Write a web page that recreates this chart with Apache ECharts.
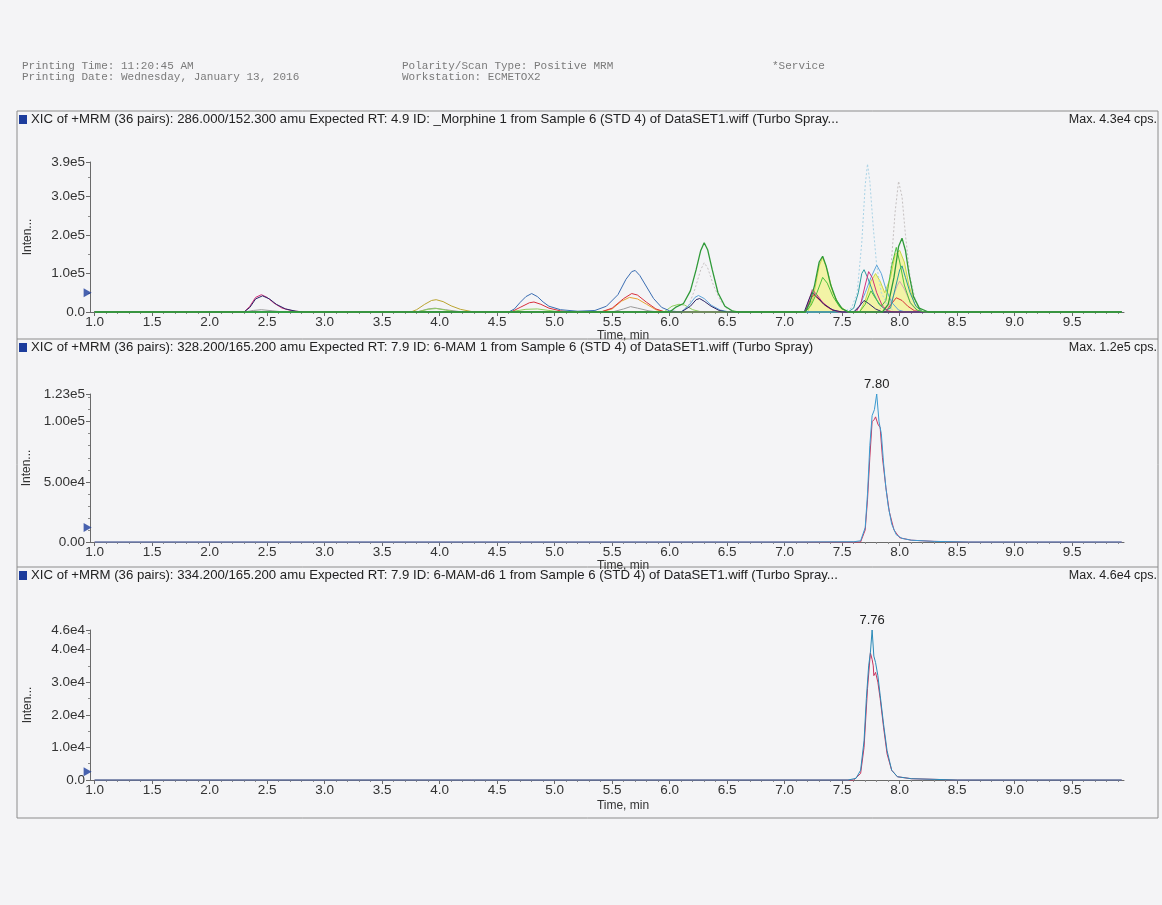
<!DOCTYPE html>
<html><head><meta charset="utf-8">
<script src="https://cdn.jsdelivr.net/npm/echarts@6/dist/echarts.min.js"></script>
<style>html,body{margin:0;padding:0;background:#f4f4f6}#c{width:1162px;height:905px}</style>
</head><body><div id="c"></div>
<script>
// ---------- tick labels ----------
const xTickValues = [1.0,1.5,2.0,2.5,3.0,3.5,4.0,4.5,5.0,5.5,6.0,6.5,7.0,7.5,8.0,8.5,9.0,9.5];
const xTickLabels = ['1.0','1.5','2.0','2.5','3.0','3.5','4.0','4.5','5.0','5.5','6.0','6.5','7.0','7.5','8.0','8.5','9.0','9.5'];
const y1TickValues = [0, 1e5, 2e5, 3e5, 3.9e5];
const y1TickLabels = ['0.0','1.0e5','2.0e5','3.0e5','3.9e5'];
const y2TickValues = [0, 5e4, 1e5, 1.23e5];
const y2TickLabels = ['0.00','5.00e4','1.00e5','1.23e5'];
const y3TickValues = [0, 1e4, 2e4, 3e4, 4e4, 4.6e4];
const y3TickLabels = ['0.0','1.0e4','2.0e4','3.0e4','4.0e4','4.6e4'];

// ---------- panel titles ----------
const panelTitles = [
  'XIC of +MRM (36 pairs): 286.000/152.300 amu Expected RT: 4.9 ID: _Morphine 1 from Sample 6 (STD 4) of DataSET1.wiff (Turbo Spray...',
  'XIC of +MRM (36 pairs): 328.200/165.200 amu Expected RT: 7.9 ID: 6-MAM 1 from Sample 6 (STD 4) of DataSET1.wiff (Turbo Spray)',
  'XIC of +MRM (36 pairs): 334.200/165.200 amu Expected RT: 7.9 ID: 6-MAM-d6 1 from Sample 6 (STD 4) of DataSET1.wiff (Turbo Spray...'
];
const panelMax = ['Max. 4.3e4 cps.', 'Max. 1.2e5 cps.', 'Max. 4.6e4 cps.'];

// ---------- threshold markers (time, intensity) ----------
const thresholds = [[1.0, 5.0e4], [1.0, 1.2e4], [1.0, 2.5e3]];

// ---------- panel 1 traces: [time (min), intensity (cps)] ----------
const p1Yellow = [[1,0],[7.2,0],[7.25,4e4],[7.3,1.2e5],[7.33,1.42e5],[7.37,1.1e5],[7.42,5e4],[7.48,1.5e4],[7.55,0],[7.65,0],[7.7,3e4],[7.75,8e4],[7.79,1e5],[7.83,8e4],[7.87,5e4],[7.92,9e4],[7.96,1.5e5],[8.0,1.6e5],[8.04,1.3e5],[8.08,7e4],[8.13,2e4],[8.2,0],[9.93,0]];
const p1CyanDot = [[1,0],[7.5,0],[7.58,1e4],[7.63,5e4],[7.67,1.8e5],[7.7,3.3e5],[7.72,3.85e5],[7.74,3.4e5],[7.77,2.2e5],[7.8,1.2e5],[7.84,5e4],[7.9,1.5e4],[7.96,0],[9.93,0]];
const p1GrayDot = [[1,0],[6.1,0],[6.17,2e4],[6.22,6e4],[6.27,1.1e5],[6.3,1.28e5],[6.33,1.15e5],[6.38,7e4],[6.44,3e4],[6.5,8e3],[6.58,0],[7.8,0],[7.87,2e4],[7.92,1e5],[7.96,2.6e5],[7.99,3.4e5],[8.02,3e5],[8.05,2e5],[8.09,9e4],[8.14,2.5e4],[8.2,0],[9.93,0]];
const p1Rose = [[1,0],[7.88,0],[7.93,3e4],[7.98,7e4],[8.0,8e4],[8.04,6e4],[8.1,2e4],[8.16,0],[9.93,0]];
const p1Gray = [[1,0],[2.3,0],[2.38,4e3],[2.45,6e3],[2.55,3e3],[2.65,0],[3.8,0],[3.9,8e3],[3.96,1e4],[4.05,6e3],[4.2,0],[5.5,0],[5.6,8e3],[5.66,1.4e4],[5.72,1e4],[5.82,3e3],[5.9,0],[9.93,0]];
const p1Olive = [[1,0],[3.75,0],[3.8,6e3],[3.87,2e4],[3.93,3e4],[3.97,3.2e4],[4.03,2.7e4],[4.1,1.6e4],[4.18,7e3],[4.28,1e3],[4.35,0],[9.93,0]];
const p1LightGreen = [[1,0],[3.8,0],[3.9,7e3],[3.97,9e3],[4.05,5e3],[4.15,0],[4.6,0],[4.75,7e3],[4.85,8e3],[4.95,4e3],[5.05,0],[5.95,0],[6.02,1.5e4],[6.08,2e4],[6.13,1.8e4],[6.2,6e3],[6.28,0],[9.93,0]];
const p1Orange = [[1,0],[5.4,0],[5.5,8e3],[5.58,2.8e4],[5.65,3.8e4],[5.72,3.4e4],[5.8,2e4],[5.88,6e3],[5.96,0],[9.93,0]];
const p1Red = [[1,0],[4.62,0],[4.7,1.2e4],[4.78,2.4e4],[4.82,2.6e4],[4.88,2e4],[4.95,1e4],[5.05,3e3],[5.15,0],[5.4,0],[5.5,1e4],[5.6,3.5e4],[5.67,4.8e4],[5.72,4.4e4],[5.8,2.5e4],[5.88,8e3],[5.96,0],[7.18,0],[7.22,3e4],[7.25,4.5e4],[7.3,3.2e4],[7.36,1.5e4],[7.42,4e3],[7.5,0],[7.88,0],[7.93,2.2e4],[7.97,3.7e4],[8.02,3e4],[8.07,1.5e4],[8.13,3e3],[8.2,0],[9.93,0]];
const p1Blue = [[1,0],[4.6,0],[4.65,8e3],[4.7,2.5e4],[4.75,4e4],[4.8,4.8e4],[4.85,4e4],[4.9,2.6e4],[4.95,1.5e4],[5.05,6e3],[5.2,2e3],[5.35,4e3],[5.45,1.5e4],[5.55,4.5e4],[5.62,8.5e4],[5.67,1.05e5],[5.7,1.08e5],[5.74,9.5e4],[5.8,6.5e4],[5.86,3.5e4],[5.93,1.2e4],[6.0,3e3],[6.1,0],[9.93,0]];
const p1LightBlue = [[1,0],[6.1,0],[6.17,1.8e4],[6.22,3.8e4],[6.25,4.3e4],[6.3,3.5e4],[6.36,1.8e4],[6.44,5e3],[6.52,0],[7.6,0],[7.65,1.5e4],[7.7,5e4],[7.75,9e4],[7.8,1.22e5],[7.84,1e5],[7.88,6e4],[7.93,2.5e4],[7.99,5e3],[8.05,0],[9.93,0]];
const p1Teal = [[1,0],[7.55,0],[7.6,1e4],[7.64,5e4],[7.67,1e5],[7.69,1.1e5],[7.72,9e4],[7.77,5e4],[7.82,2e4],[7.88,5e3],[7.92,1e4],[7.96,6e4],[8.0,1.1e5],[8.02,1.2e5],[8.05,9e4],[8.09,5e4],[8.14,1.5e4],[8.2,0],[9.93,0]];
const p1Magenta = [[1,0],[2.3,0],[2.35,1.5e4],[2.4,3.8e4],[2.45,4.5e4],[2.5,3.8e4],[2.56,2.3e4],[2.63,1e4],[2.72,3e3],[2.82,0],[7.18,0],[7.21,3e4],[7.24,5.8e4],[7.28,4.5e4],[7.33,2.5e4],[7.4,8e3],[7.47,0],[7.62,0],[7.66,2e4],[7.7,7e4],[7.73,1.05e5],[7.76,9e4],[7.8,5e4],[7.85,1.5e4],[7.9,3e3],[7.95,0],[9.93,0]];
const p1Navy = [[1,0],[2.3,0],[2.35,1.2e4],[2.4,3.4e4],[2.46,4.2e4],[2.52,3.4e4],[2.58,2e4],[2.66,8e3],[2.75,2e3],[2.82,0],[6.1,0],[6.18,1.5e4],[6.23,3.2e4],[6.26,3.5e4],[6.3,2.8e4],[6.36,1.5e4],[6.43,4e3],[6.5,0],[7.17,0],[7.21,3.2e4],[7.24,5.2e4],[7.28,4e4],[7.34,2e4],[7.42,5e3],[7.5,0],[7.6,0],[7.65,1.5e4],[7.69,3e4],[7.73,2.2e4],[7.79,8e3],[7.85,0],[9.93,0]];
const p1Green2 = [[1,0],[7.18,0],[7.23,1.8e4],[7.28,5e4],[7.33,9e4],[7.37,7.5e4],[7.42,4e4],[7.48,1.2e4],[7.55,0],[7.65,0],[7.7,2e4],[7.75,5.5e4],[7.79,3.5e4],[7.84,1.5e4],[7.88,3e4],[7.93,1.2e5],[7.97,1.68e5],[8.0,1.3e5],[8.04,7e4],[8.09,2.5e4],[8.15,5e3],[8.22,0],[9.93,0]];
const p1Green = [[1,0],[6.0,0],[6.05,1.2e4],[6.12,2.2e4],[6.18,5.5e4],[6.23,1.1e5],[6.27,1.6e5],[6.3,1.8e5],[6.33,1.62e5],[6.37,1.1e5],[6.42,5e4],[6.48,1.5e4],[6.55,2e3],[6.6,0],[7.18,0],[7.22,2.5e4],[7.26,7e4],[7.3,1.3e5],[7.33,1.45e5],[7.36,1.2e5],[7.4,7e4],[7.45,3e4],[7.5,8e3],[7.56,0],[7.85,0],[7.9,2e4],[7.95,9e4],[7.99,1.7e5],[8.02,1.92e5],[8.05,1.6e5],[8.08,1e5],[8.12,4e4],[8.17,1e4],[8.25,0],[9.93,0]];

// ---------- panel 2 traces ----------
const p2Blue = [[1,0],[7.1,0],[7.6,200],[7.66,1e3],[7.7,1.2e4],[7.72,4e4],[7.74,8e4],[7.76,1.05e5],[7.78,1.1e5],[7.8,1.23e5],[7.82,1.0e5],[7.84,9e4],[7.86,6.5e4],[7.88,4.5e4],[7.9,3e4],[7.93,1.5e4],[7.97,6e3],[8.02,3e3],[8.1,1.5e3],[8.3,500],[8.6,0],[9.93,0]];
const p2Red = [[1,0],[7.66,0],[7.7,1e4],[7.72,3.5e4],[7.74,7e4],[7.76,1.0e5],[7.78,1.02e5],[7.79,1.04e5],[7.81,9.8e4],[7.83,9.5e4],[7.85,7e4],[7.88,4.5e4],[7.91,2.5e4],[7.95,1e4],[8.0,3.5e3],[8.1,1.5e3],[8.3,500],[8.6,0],[9.93,0]];
const p2Peak = [7.80, 1.23e5, '7.80'];

// ---------- panel 3 traces ----------
const p3Blue = [[1,0],[7.55,0],[7.62,500],[7.66,3e3],[7.69,1.2e4],[7.71,2.5e4],[7.73,3.5e4],[7.745,3.9e4],[7.76,4.6e4],[7.775,3.8e4],[7.79,3.6e4],[7.81,3.2e4],[7.83,2.6e4],[7.86,1.7e4],[7.89,9e3],[7.93,3e3],[7.98,1e3],[8.1,400],[8.5,0],[9.93,0]];
const p3Red = [[1,0],[7.6,0],[7.66,2e3],[7.69,1e4],[7.72,2.8e4],[7.745,3.9e4],[7.76,3.7e4],[7.77,3.5e4],[7.775,3.2e4],[7.79,3.3e4],[7.81,3e4],[7.83,2.5e4],[7.86,1.6e4],[7.89,8e3],[7.93,3e3],[7.98,1e3],[8.1,400],[8.5,0],[9.93,0]];
const p3Peak = [7.76, 4.6e4, '7.76'];

// ---------- layout / styles ----------
const X_MIN = 0.96, X_MAX = 9.95;
const grids = [
  {left: 90, top: 162, width: 1034, height: 150},
  {left: 90, top: 394, width: 1034, height: 148},
  {left: 90, top: 630, width: 1034, height: 150}
];
const nameGaps = [15, 15, 20];
const yAxesDef = [
  {max: 3.9e5, interval: 1e5, minor: 2, vals: y1TickValues, labels: y1TickLabels},
  {max: 1.23e5, interval: 5e4, minor: 5, vals: y2TickValues, labels: y2TickLabels},
  {max: 4.6e4, interval: 1e4, minor: 2, vals: y3TickValues, labels: y3TickLabels}
];
const minorX = [];
for (let i = 10; i < 100; i++) { if (i % 5 !== 0) minorX.push(i / 10); }

const FONT = 'Liberation Sans, Arial, sans-serif';
const xAxis = [], yAxis = [];
grids.forEach((g, i) => {
  xAxis.push({
    type: 'value', gridIndex: i, min: X_MIN, max: X_MAX, position: 'bottom',
    name: 'Time, min', nameLocation: 'middle', nameGap: nameGaps[i],
    nameTextStyle: {color: '#333', fontSize: 12, fontFamily: FONT, padding: [0, 0, 0, 32]},
    axisLine: {lineStyle: {color: '#6a6a6a', width: 1}},
    axisTick: {show: true, customValues: xTickValues, length: 4, lineStyle: {color: '#6a6a6a'}},
    axisLabel: {customValues: xTickValues, formatter: v => xTickLabels[xTickValues.findIndex(t => Math.abs(t - v) < 1e-6)] || '',
      color: '#333', fontSize: 13.5, fontFamily: FONT, margin: 3},
    splitLine: {show: false}
  });
  xAxis.push({
    type: 'value', gridIndex: i, min: X_MIN, max: X_MAX, position: 'bottom', offset: 0,
    axisLine: {show: false}, axisLabel: {show: false}, splitLine: {show: false},
    axisTick: {show: true, customValues: minorX, length: 2, lineStyle: {color: '#8a8a8a'}}
  });
  const y = yAxesDef[i];
  yAxis.push({
    type: 'value', gridIndex: i, min: 0, max: y.max, interval: y.interval,
    name: 'Inten...', nameLocation: 'middle', nameGap: 56, nameRotate: 90,
    nameTextStyle: {color: '#333', fontSize: 12, fontFamily: FONT},
    axisLine: {show: true, lineStyle: {color: '#6a6a6a', width: 1}},
    axisTick: {show: true, customValues: y.vals, length: 4, lineStyle: {color: '#6a6a6a'}},
    minorTick: {show: true, splitNumber: y.minor, length: 2, lineStyle: {color: '#8a8a8a'}},
    axisLabel: {customValues: y.vals, formatter: v => y.labels[y.vals.findIndex(t => Math.abs(t - v) < 1e-6)] || '',
      color: '#333', fontSize: 13.5, fontFamily: FONT, margin: 5},
    splitLine: {show: false}
  });
});

function line(data, gi, color, opts) {
  opts = opts || {};
  const s = {
    type: 'line', data: data, xAxisIndex: gi * 2, yAxisIndex: gi,
    showSymbol: false, symbol: 'none', animation: false, silent: true, clip: false,
    lineStyle: {color: color, width: opts.width || 1, type: opts.dash || 'solid'},
    z: opts.z || 3
  };
  if (opts.area) s.areaStyle = {color: opts.area, opacity: 1};
  return s;
}
function peakLabel(series, peak) {
  series.markPoint = {
    symbol: 'circle', symbolSize: 1, itemStyle: {color: 'rgba(0,0,0,0)'},
    label: {show: true, position: 'top', distance: 3, formatter: peak[2], color: '#222', fontSize: 13, fontFamily: FONT},
    data: [{coord: [peak[0], peak[1]]}], animation: false
  };
  return series;
}

const series = [
  line(p1Yellow, 0, '#c9d845', {area: '#f3f3a6', z: 2}),
  line(p1CyanDot, 0, '#a9d3e6', {dash: [2, 2]}),
  line(p1GrayDot, 0, '#c5c0c0', {dash: [2, 2]}),
  line(p1Rose, 0, '#d4a8b4'),
  line(p1Gray, 0, '#9a9a9a'),
  line(p1Olive, 0, '#bba430'),
  line(p1LightGreen, 0, '#8bcf5a'),
  line(p1Orange, 0, '#e8a232'),
  line(p1Red, 0, '#d8303c'),
  line(p1Blue, 0, '#3a6db2'),
  line(p1LightBlue, 0, '#5fa5da'),
  line(p1Teal, 0, '#2a9a9e'),
  line(p1Magenta, 0, '#d2307c'),
  line(p1Navy, 0, '#2a2466'),
  line(p1Green2, 0, '#4cc03c'),
  line(p1Green, 0, '#2f9a38', {width: 1.3}),
  line(p2Red, 1, '#c8345e', {z: 3}),
  peakLabel(line(p2Blue, 1, '#3a9ad0', {z: 4}), p2Peak),
  line(p3Red, 2, '#c8345e', {z: 3}),
  peakLabel(line(p3Blue, 2, '#2a8ab8', {z: 4}), p3Peak)
];
thresholds.forEach((t, i) => {
  series.push({
    type: 'scatter', xAxisIndex: i * 2, yAxisIndex: i, data: [t], clip: false, silent: true, animation: false,
    symbol: 'triangle', symbolRotate: -90, symbolSize: [9, 8], symbolOffset: [-7, 0],
    itemStyle: {color: '#1c3c9c'}, z: 5
  });
});

// text elements
const MONO = {fontFamily: 'Liberation Mono, monospace', fontSize: 11, fontWeight: 'normal', color: '#7a7a7a'};
const titleY = [113, 341, 569];
const title = [
  {text: 'Printing Time: 11:20:45 AM', left: 22, top: 61, padding: 0, textStyle: MONO},
  {text: 'Printing Date: Wednesday, January 13, 2016', left: 22, top: 72, padding: 0, textStyle: MONO},
  {text: 'Polarity/Scan Type: Positive MRM', left: 402, top: 61, padding: 0, textStyle: MONO},
  {text: 'Workstation: ECMETOX2', left: 402, top: 72, padding: 0, textStyle: MONO},
  {text: '*Service', left: 772, top: 61, padding: 0, textStyle: MONO}
];
panelTitles.forEach((t, i) => {
  title.push({text: t, left: 31, top: titleY[i], padding: 0, textStyle: {fontFamily: FONT, fontSize: 13.2, fontWeight: 'normal', color: '#222'}});
  title.push({text: panelMax[i], right: 5, top: titleY[i], padding: 0, textStyle: {fontFamily: FONT, fontSize: 12.5, fontWeight: 'normal', color: '#222'}});
});

const graphic = [
  {type: 'rect', shape: {x: 17, y: 111, width: 1141, height: 707}, style: {fill: 'none', stroke: '#8c8c8c', lineWidth: 1}, silent: true},
  {type: 'line', shape: {x1: 17, y1: 339, x2: 1158, y2: 339}, style: {stroke: '#8c8c8c', lineWidth: 1}, silent: true},
  {type: 'line', shape: {x1: 17, y1: 567, x2: 1158, y2: 567}, style: {stroke: '#8c8c8c', lineWidth: 1}, silent: true}
];
titleY.forEach(y => {
  graphic.push({type: 'rect', shape: {x: 19, y: y + 2, width: 8, height: 9}, style: {fill: '#1c3c9c'}, silent: true});
});

const chart = echarts.init(document.getElementById('c'), null, {renderer: 'canvas'});
chart.setOption({
  backgroundColor: '#f4f4f6',
  animation: false,
  title: title,
  grid: grids.map(g => Object.assign({outerBoundsMode: 'none', containLabel: false}, g)),
  xAxis: xAxis, yAxis: yAxis,
  series: series,
  graphic: graphic,
  tooltip: {show: false}
});
</script></body></html>
